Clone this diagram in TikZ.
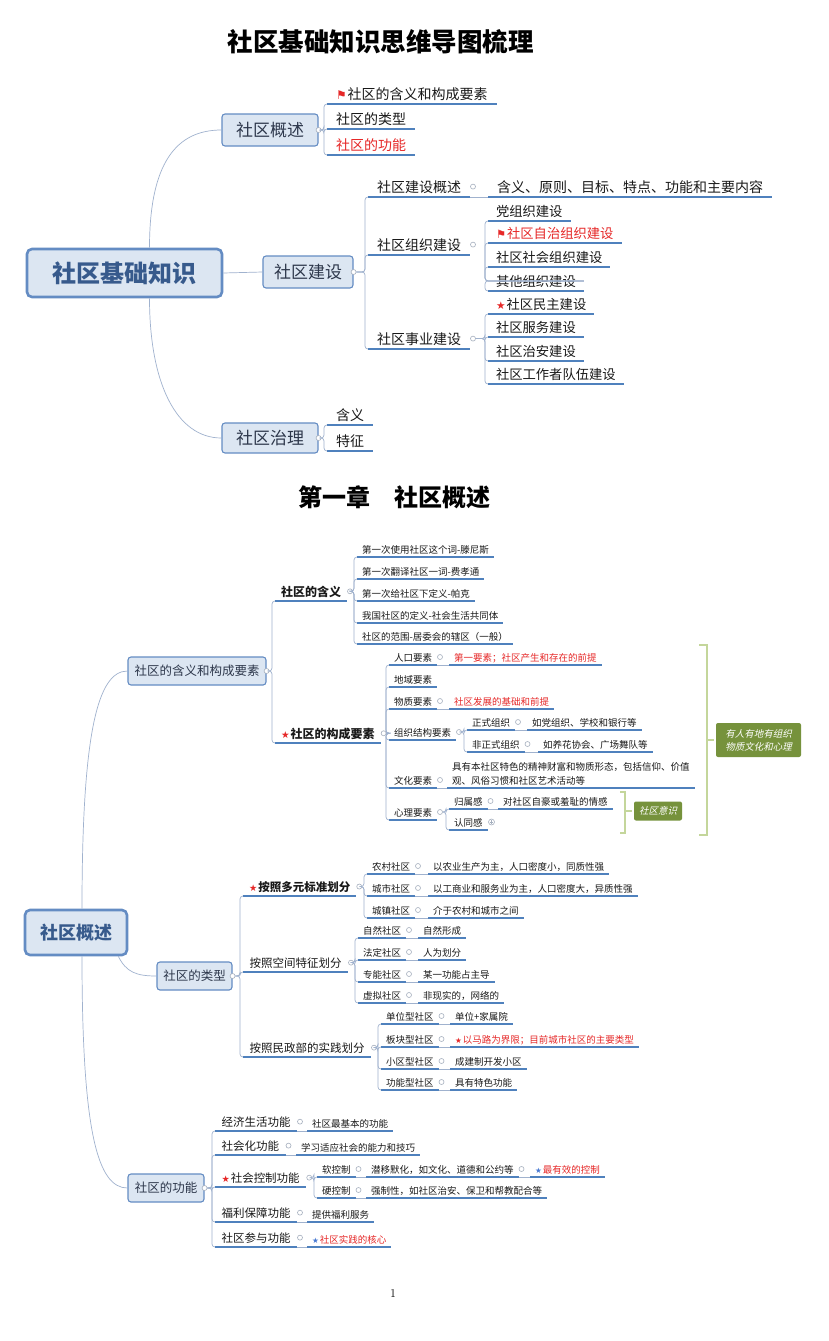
\documentclass[tikz,border=0pt]{standalone}
\usepackage{fontspec}
\usepackage{graphicx}
\newfontfamily\cjk{Noto Sans CJK SC}
\newfontfamily\cjkit{Noto Sans CJK SC}[FakeSlant=0.22]
\newfontfamily\symf{DejaVu Sans}
\definecolor{ublue}{RGB}{79,129,189}
\definecolor{connc}{RGB}{160,178,206}
\definecolor{boxf}{RGB}{220,230,242}
\definecolor{boxd}{RGB}{100,140,195}
\definecolor{boxt}{RGB}{45,55,75}
\definecolor{roott}{RGB}{55,90,140}
\definecolor{redc}{RGB}{230,40,40}
\definecolor{bluec}{RGB}{70,120,210}
\definecolor{gfill}{RGB}{118,146,60}
\definecolor{gline}{RGB}{196,214,155}
\definecolor{dotc}{RGB}{165,175,190}
\definecolor{txt}{RGB}{25,25,25}
\newcommand\MyRStar{{\symf\color{redc}\scalebox{0.8}{★}}\hspace{1pt}}
\newcommand\MyBStar{{\symf\color{bluec}\scalebox{0.8}{★}}\hspace{1pt}}
\newcommand\MyFlag{{\symf\color{redc}\scalebox{0.85}{⚑}}\hspace{1pt}}
\newcommand\MyFan[2]{\foreach \c in {#2}{\draw[conn] (#1.east) -| ([xshift=-3pt]\c.south west) -- (\c.south west);}}
\newcommand\MyLink[2]{\draw[conn] (#1.south east) -- (#2.south west);}
\tikzset{
  conn/.style={draw=connc, line width=0.7pt, rounded corners=3pt},
  uline/.style={draw=ublue, line width=1.6pt},
  tp/.style={anchor=south west, inner ysep=4.5pt, outer sep=0pt, text depth=0pt, text=txt,
    append after command={(\tikzlastnode.south west) edge[uline] (\tikzlastnode.south east)}},
  tA/.style={tp, inner xsep=9pt, font=\cjk\fontsize{14}{16}\selectfont},
  tB/.style={tp, inner xsep=8pt, font=\cjk\fontsize{13.3}{16}\selectfont},
  sA/.style={tp, inner xsep=6.5pt, font=\cjk\fontsize{11.5}{14}\selectfont},
  sC/.style={tp, inner xsep=6pt, font=\cjk\bfseries\fontsize{12}{14}\selectfont},
  sD/.style={tp, inner xsep=6pt, font=\cjk\bfseries\fontsize{11.5}{14}\selectfont},
  sB/.style={tp, inner xsep=5pt, inner ysep=4pt, font=\cjk\fontsize{9.5}{14}\selectfont},
  dot/.style={circle, draw=dotc, fill=white, line width=0.6pt, inner sep=0pt, minimum size=5pt},
  box/.style={rectangle, rounded corners=3pt, draw=boxd, fill=boxf, line width=1.1pt, text=boxt, inner sep=0pt},
  rootbox/.style={box, line width=2.6pt, rounded corners=5pt, text=roott},
  gbox/.style={rectangle, rounded corners=2pt, fill=gfill, text=white, font=\cjkit\fontsize{9.5}{13}\selectfont, inner sep=0pt, align=center},
  brk/.style={draw=gline, line width=2.2pt},
  ttl/.style={inner sep=0pt, text=black}
}
\begin{document}
\begin{tikzpicture}[x=1pt,y=-1pt]
\fill[white] (0,0) rectangle (828,1341);
\useasboundingbox (0,0) rectangle (828,1341);

% ================= first map =================
\node[ttl, font=\cjk\bfseries\fontsize{25.5}{28}\selectfont] (title1) at (380.5,42) {社区基础知识思维导图梳理};

\node[rootbox, minimum width=195pt, minimum height=48pt, font=\cjk\bfseries\fontsize{24}{26}\selectfont] (r1) at (124.5,273) {社区基础知识};
\node[box, minimum width=96pt, minimum height=32pt, font=\cjk\fontsize{17}{20}\selectfont] (a1) at (270,130) {社区概述};
\node[box, minimum width=90pt, minimum height=32pt, font=\cjk\fontsize{17}{20}\selectfont] (a2) at (308,272) {社区建设};
\node[box, minimum width=96pt, minimum height=30pt, font=\cjk\fontsize{17}{20}\selectfont] (a3) at (270,438) {社区治理};

\draw[conn] ([xshift=25pt]r1.north) .. controls +(0,-85) and +(-45,0) .. (a1.west);
\draw[conn] (r1.east) -- (a2.west);
\draw[conn] ([xshift=25pt]r1.south) .. controls +(0,85) and +(-45,0) .. (a3.west);

% 社区概述
\node[dot] (a1d) at (a1.east) {};
\node[tA] (a1c1) at (327,104) {\MyFlag 社区的含义和构成要素};
\node[tA] (a1c2) at (327,129) {社区的类型};
\node[tA, text=redc] (a1c3) at (327,155) {社区的功能};
\MyFan{a1d}{a1c1,a1c2,a1c3}

% 社区建设
\node[dot] (a2d) at (a2.east) {};
\node[tA] (a2c1) at (368,197) {社区建设概述};
\node[tA] (a2c2) at (368,255) {社区组织建设};
\node[tA] (a2c3) at (368,349) {社区事业建设};
\MyFan{a2d}{a2c1,a2c2,a2c3}

\node[dot] (a2c1d) at ([xshift=3pt]a2c1.east) {};
\node[tA] (a2c1a) at (488,197) {含义、原则、目标、特点、功能和主要内容};
\MyLink{a2c1}{a2c1a}

\node[dot] (a2c2d) at ([xshift=3pt]a2c2.east) {};
\node[tB] (a2c2a) at (488,221) {党组织建设};
\node[tB, text=redc] (a2c2b) at (488,243) {\MyFlag 社区自治组织建设};
\node[tB] (a2c2c) at (488,267) {社区社会组织建设};
\node[tB] (a2c2d) at (488,291) {其他组织建设};
\MyFan{a2c2d}{a2c2a,a2c2b,a2c2c,a2c2d}

\node[dot] (a2c3d) at ([xshift=3pt]a2c3.east) {};
\node[tB] (a2c3a) at (488,314) {\MyRStar 社区民主建设};
\node[tB] (a2c3b) at (488,337) {社区服务建设};
\node[tB] (a2c3c) at (488,361) {社区治安建设};
\node[tB] (a2c3e) at (488,384) {社区工作者队伍建设};
\MyFan{a2c3d}{a2c3a,a2c3b,a2c3c,a2c3e}

% 社区治理
\node[dot] (a3d) at (a3.east) {};
\node[tA] (a3c1) at (327,425) {含义};
\node[tA] (a3c2) at (327,451) {特征};
\MyFan{a3d}{a3c1,a3c2}

% ================= second map =================
\node[ttl, font=\cjk\bfseries\fontsize{24}{26}\selectfont] (title2) at (394,497) {第一章　社区概述};

\node[rootbox, minimum width=102pt, minimum height=45pt, font=\cjk\bfseries\fontsize{18}{20}\selectfont] (r2) at (76,932.5) {社区概述};
\node[box, minimum width=138pt, minimum height=28pt, font=\cjk\fontsize{12.5}{15}\selectfont] (b1) at (197,671) {社区的含义和构成要素};
\node[box, minimum width=75pt, minimum height=28pt, font=\cjk\fontsize{12.5}{15}\selectfont] (b2) at (194.5,976) {社区的类型};
\node[box, minimum width=76pt, minimum height=28pt, font=\cjk\fontsize{12.5}{15}\selectfont] (b3) at (166,1188) {社区的功能};

\draw[conn] ([xshift=6pt]r2.north) .. controls +(0,-175) and +(-30,0) .. (b1.west);
\draw[conn] ([xshift=6pt]r2.south) .. controls +(0,175) and +(-30,0) .. (b3.west);
\draw[conn] ([xshift=-10pt]r2.south east) .. controls +(8,16) and +(-20,0) .. (b2.west);

% 社区的含义和构成要素
\node[dot] (b1d) at (b1.east) {};
\node[sC] (k1) at (275,601) {社区的含义};
\node[sC] (k2) at (275,743) {\MyRStar 社区的构成要素};
\MyFan{b1d}{k1,k2}

\node[dot] (k1d) at ([xshift=3pt]k1.east) {};
\node[sB] (k1a) at (357,557) {第一次使用社区这个词-滕尼斯};
\node[sB] (k1b) at (357,579) {第一次翻译社区一词-费孝通};
\node[sB] (k1c) at (357,601) {第一次给社区下定义-帕克};
\node[sB] (k1e) at (357,623) {我国社区的定义-社会生活共同体};
\node[sB] (k1f) at (357,644) {社区的范围-居委会的辖区（一般）};
\MyFan{k1d}{k1a,k1b,k1c,k1e,k1f}

\node[dot] (k2d) at ([xshift=3pt]k2.east) {};
\node[sB] (e1) at (389,665) {人口要素};
\node[sB] (e2) at (389,687) {地域要素};
\node[sB] (e3) at (389,709) {物质要素};
\node[sB] (e4) at (389,740) {组织结构要素};
\node[sB] (e5) at (389,788) {文化要素};
\node[sB] (e6) at (389,820) {心理要素};
\MyFan{k2d}{e1,e2,e3,e4,e5,e6}

\node[dot] (e1d) at ([xshift=3pt]e1.east) {};
\node[sB, text=redc] (e1a) at (449,665) {第一要素；社区产生和存在的前提};
\MyLink{e1}{e1a}
\node[dot] (e3d) at ([xshift=3pt]e3.east) {};
\node[sB, text=redc] (e3a) at (449,709) {社区发展的基础和前提};
\MyLink{e3}{e3a}

\node[dot] (e4d) at ([xshift=3pt]e4.east) {};
\node[sB] (e4a) at (467,730) {正式组织};
\node[sB] (e4b) at (467,752) {非正式组织};
\MyFan{e4d}{e4a,e4b}
\node[dot] (e4ad) at ([xshift=3pt]e4a.east) {};
\node[sB] (e4a1) at (527,730) {如党组织、学校和银行等};
\MyLink{e4a}{e4a1}
\node[dot] (e4bd) at ([xshift=3pt]e4b.east) {};
\node[sB] (e4b1) at (538,752) {如养花协会、广场舞队等};
\MyLink{e4b}{e4b1}

\node[dot] (e5d) at ([xshift=3pt]e5.east) {};
\node[sB, align=left] (e5a) at (447,788) {具有本社区特色的精神财富和物质形态，包括信仰、价值\\观、风俗习惯和社区艺术活动等};
\MyLink{e5}{e5a}

\node[dot] (e6d) at ([xshift=3pt]e6.east) {};
\node[sB] (e6a) at (449,809) {归属感};
\node[sB] (e6b) at (449,830) {认同感};
\MyFan{e6d}{e6a,e6b}
\node[dot] (e6ad) at ([xshift=3pt]e6a.east) {};
\node[sB] (e6a1) at (498,809) {对社区自豪或羞耻的情感};
\MyLink{e6a}{e6a1}
\node[dot, minimum size=6pt, path picture={
  \draw[dotc, line width=0.6pt] ([xshift=1.2pt]path picture bounding box.west) -- ([xshift=-1.2pt]path picture bounding box.east);
  \draw[dotc, line width=0.6pt] ([yshift=-1.2pt]path picture bounding box.north) -- ([yshift=1.2pt]path picture bounding box.south);}]
  (e6bd) at ([xshift=4pt]e6b.east) {};

% green brackets
\coordinate (sb1) at (620,792);
\coordinate (sb2) at (620,833);
\coordinate (sbm) at (625,811);
\node[gbox, minimum width=48pt, minimum height=19pt] (g1) at (658,811) {社区意识};
\draw[brk] (sb1) -- ++(5,0) |- (sb2);
\draw[brk] (sbm) -- ([xshift=-2pt]g1.west);

\coordinate (bb1) at (699,645);
\coordinate (bb2) at (699,835);
\coordinate (bbm) at (707,740);
\node[gbox, minimum width=85pt, minimum height=34pt] (g2) at (758.5,740) {有人有地有组织\\物质文化和心理};
\draw[brk] (bb1) -- ++(8,0) |- (bb2);
\draw[brk] (bbm) -- ([xshift=-2pt]g2.west);

% 社区的类型
\node[dot] (b2d) at (b2.east) {};
\node[sD] (f1) at (243,896) {\MyRStar 按照多元标准划分};
\node[sA] (f2) at (243,972) {按照空间特征划分};
\node[sA] (f3) at (243,1057) {按照民政部的实践划分};
\MyFan{b2d}{f1,f2,f3}

\node[dot] (f1d) at ([xshift=3pt]f1.east) {};
\node[sB] (f1a) at (367,874) {农村社区};
\node[sB] (f1b) at (367,896) {城市社区};
\node[sB] (f1c) at (367,918) {城镇社区};
\MyFan{f1d}{f1a,f1b,f1c}
\node[dot] (f1ad) at ([xshift=3pt]f1a.east) {};
\node[sB] (f1a1) at (428,874) {以农业生产为主，人口密度小，同质性强};
\MyLink{f1a}{f1a1}
\node[dot] (f1bd) at ([xshift=3pt]f1b.east) {};
\node[sB] (f1b1) at (428,896) {以工商业和服务业为主，人口密度大，异质性强};
\MyLink{f1b}{f1b1}
\node[dot] (f1cd) at ([xshift=3pt]f1c.east) {};
\node[sB] (f1c1) at (428,918) {介于农村和城市之间};
\MyLink{f1c}{f1c1}

\node[dot] (f2d) at ([xshift=3pt]f2.east) {};
\node[sB] (f2a) at (358,938) {自然社区};
\node[sB] (f2b) at (358,960) {法定社区};
\node[sB] (f2c) at (358,982) {专能社区};
\node[sB] (f2e) at (358,1003) {虚拟社区};
\MyFan{f2d}{f2a,f2b,f2c,f2e}
\node[dot] (f2ad) at ([xshift=3pt]f2a.east) {};
\node[sB] (f2a1) at (418,938) {自然形成};
\MyLink{f2a}{f2a1}
\node[dot] (f2bd) at ([xshift=3pt]f2b.east) {};
\node[sB] (f2b1) at (418,960) {人为划分};
\MyLink{f2b}{f2b1}
\node[dot] (f2cd) at ([xshift=3pt]f2c.east) {};
\node[sB] (f2c1) at (418,982) {某一功能占主导};
\MyLink{f2c}{f2c1}
\node[dot] (f2ed) at ([xshift=3pt]f2e.east) {};
\node[sB] (f2e1) at (418,1003) {非现实的，网络的};
\MyLink{f2e}{f2e1}

\node[dot] (f3d) at ([xshift=3pt]f3.east) {};
\node[sB] (f3a) at (381,1024) {单位型社区};
\node[sB] (f3b) at (381,1047) {板块型社区};
\node[sB] (f3c) at (381,1069) {小区型社区};
\node[sB] (f3e) at (381,1090) {功能型社区};
\MyFan{f3d}{f3a,f3b,f3c,f3e}
\node[dot] (f3ad) at ([xshift=3pt]f3a.east) {};
\node[sB] (f3a1) at (450,1024) {单位+家属院};
\MyLink{f3a}{f3a1}
\node[dot] (f3bd) at ([xshift=3pt]f3b.east) {};
\node[sB, text=redc] (f3b1) at (450,1047) {\MyRStar 以马路为界限；目前城市社区的主要类型};
\MyLink{f3b}{f3b1}
\node[dot] (f3cd) at ([xshift=3pt]f3c.east) {};
\node[sB] (f3c1) at (450,1069) {成建制开发小区};
\MyLink{f3c}{f3c1}
\node[dot] (f3ed) at ([xshift=3pt]f3e.east) {};
\node[sB] (f3e1) at (450,1090) {具有特色功能};
\MyLink{f3e}{f3e1}

% 社区的功能
\node[dot] (b3d) at (b3.east) {};
\node[sA] (h1) at (215,1131) {经济生活功能};
\node[sA] (h2) at (215,1155) {社会化功能};
\node[sA] (h3) at (215,1187) {\MyRStar 社会控制功能};
\node[sA] (h4) at (215,1222) {福利保障功能};
\node[sA] (h5) at (215,1247) {社区参与功能};
\MyFan{b3d}{h1,h2,h3,h4,h5}

\node[dot] (h1d) at ([xshift=3pt]h1.east) {};
\node[sB] (h1a) at (307,1131) {社区最基本的功能};
\MyLink{h1}{h1a}
\node[dot] (h2d) at ([xshift=3pt]h2.east) {};
\node[sB] (h2a) at (296,1155) {学习适应社会的能力和技巧};
\MyLink{h2}{h2a}
\node[dot] (h4d) at ([xshift=3pt]h4.east) {};
\node[sB] (h4a) at (307,1222) {提供福利服务};
\MyLink{h4}{h4a}
\node[dot] (h5d) at ([xshift=3pt]h5.east) {};
\node[sB, text=redc] (h5a) at (307,1247) {\MyBStar 社区实践的核心};
\MyLink{h5}{h5a}

\node[dot] (h3d) at ([xshift=3pt]h3.east) {};
\node[sB] (h3a) at (317,1177) {软控制};
\node[sB] (h3b) at (317,1198) {硬控制};
\MyFan{h3d}{h3a,h3b}
\node[dot] (h3ad) at ([xshift=3pt]h3a.east) {};
\node[sB] (h3a1) at (366,1177) {潜移默化，如文化、道德和公约等};
\MyLink{h3a}{h3a1}
\node[dot] (h3a1d) at ([xshift=3pt]h3a1.east) {};
\node[sB, text=redc] (h3a2) at (530,1177) {\MyBStar 最有效的控制};
\MyLink{h3a1}{h3a2}
\node[dot] (h3bd) at ([xshift=3pt]h3b.east) {};
\node[sB] (h3b1) at (366,1198) {强制性，如社区治安、保卫和帮教配合等};
\MyLink{h3b}{h3b1}

\node[inner sep=0pt, font=\fontsize{12}{14}\selectfont] (pg) at (393,1293) {1};
\end{tikzpicture}
\end{document}
